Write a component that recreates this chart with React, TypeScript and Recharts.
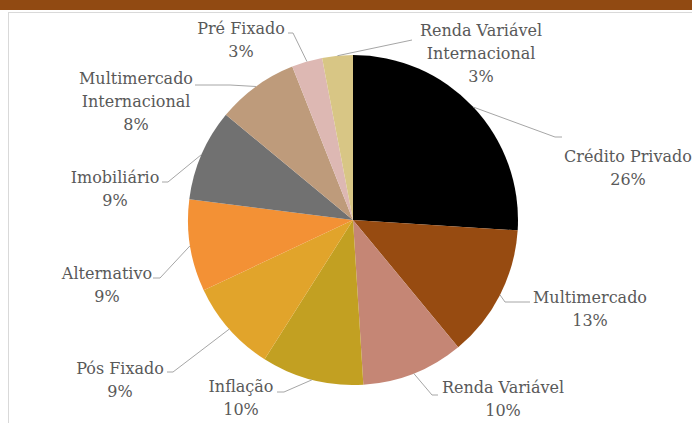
import React from 'react';
import { PieChart, Pie, Cell } from 'recharts';

const categories = [
  'Crédito Privado',
  'Multimercado',
  'Renda Variável',
  'Inflação',
  'Pós Fixado',
  'Alternativo',
  'Imobiliário',
  'Multimercado Internacional',
  'Pré Fixado',
  'Renda Variável Internacional',
];
const values = [26, 13, 10, 10, 9, 9, 9, 8, 3, 3];
const labelTexts = [
  ['Crédito Privado'],
  ['Multimercado'],
  ['Renda Variável'],
  ['Inflação'],
  ['Pós Fixado'],
  ['Alternativo'],
  ['Imobiliário'],
  ['Multimercado', 'Internacional'],
  ['Pré Fixado'],
  ['Renda Variável', 'Internacional'],
];

const colors = [
  '#000000',
  '#974B11',
  '#C58675',
  '#C2A022',
  '#E1A42B',
  '#F39135',
  '#717171',
  '#BE9B7B',
  '#DDB8B3',
  '#D8C685',
];

// label layout relative to pie centre: text centre (tx, ty first line), leader elbow (ax, ay), leader end (hx, ay)
const layout = [
  { tx: 275, ty: -64, ax: 202, ay: -83, hx: 209 },
  { tx: 237, ty: 77, ax: 152, ay: 82, hx: 177 },
  { tx: 150, ty: 167, ax: 79, ay: 175, hx: 85 },
  { tx: -112, ty: 166, ax: -69, ay: 172, hx: -76 },
  { tx: -233, ty: 148, ax: -180, ay: 152, hx: -186 },
  { tx: -246, ty: 53, ax: -193, ay: 58, hx: -200 },
  { tx: -238, ty: -43, ax: -185, ay: -38, hx: -191 },
  { tx: -217, ty: -142, ax: -123, ay: -135, hx: -158 },
  { tx: -112, ty: -192, ax: -60, ay: -187, hx: -65 },
  { tx: 128, ty: -190, ax: 59, ay: -180, hx: 59 },
];

const data = categories.map((name, i) => ({ name, value: values[i] }));
const total = values.reduce((a, b) => a + b, 0);

const RAD = Math.PI / 180;
const FONT = '"DejaVu Serif", serif';

function renderLabel(props: any) {
  const { cx, cy, midAngle, outerRadius, index, value } = props;
  const ex = cx + outerRadius * Math.cos(-midAngle * RAD);
  const ey = cy + outerRadius * Math.sin(-midAngle * RAD);
  const L = layout[index];
  const pts = `${ex},${ey} ${cx + L.ax},${cy + L.ay} ${cx + L.hx},${cy + L.ay}`;
  const lines = [...labelTexts[index], `${Math.round((value / total) * 100)}%`];
  return (
    <g key={`lbl-${index}`}>
      <polyline points={pts} fill="none" stroke="#A6A6A6" strokeWidth={1} />
      <text textAnchor="middle" fill="#595959" fontFamily={FONT} fontSize={16} style={{ fontFamily: FONT }}>
        {lines.map((t, i) => (
          <tspan key={i} x={cx + L.tx} y={cy + L.ty + i * 23 + 6}>
            {t}
          </tspan>
        ))}
      </text>
    </g>
  );
}

export default function App() {
  return (
    <div
      style={{
        position: 'fixed',
        left: 0,
        top: 0,
        width: 692,
        height: 423,
        background: '#ffffff',
        overflow: 'hidden',
        fontFamily: FONT,
      }}
    >
      <div style={{ position: 'absolute', left: 0, top: 0, width: 692, height: 10, background: '#914A12' }} />
      <div
        style={{
          position: 'absolute',
          left: 8,
          top: 12,
          width: 684,
          height: 411,
          borderLeft: '1px solid #D9D9D9',
          borderTop: '1px solid #D9D9D9',
        }}
      />
      <div style={{ position: 'absolute', left: 0, top: 0 }}>
        <PieChart width={692} height={423} margin={{ top: 0, right: 0, bottom: 0, left: 0 }}>
          <Pie
            data={data}
            dataKey="value"
            nameKey="name"
            cx={353}
            cy={220}
            outerRadius={165}
            startAngle={90}
            endAngle={-270}
            stroke="none"
            isAnimationActive={false}
            label={renderLabel}
            labelLine={false}
          >
            {data.map((d, i) => (
              <Cell key={d.name} fill={colors[i]} />
            ))}
          </Pie>
        </PieChart>
      </div>
    </div>
  );
}
